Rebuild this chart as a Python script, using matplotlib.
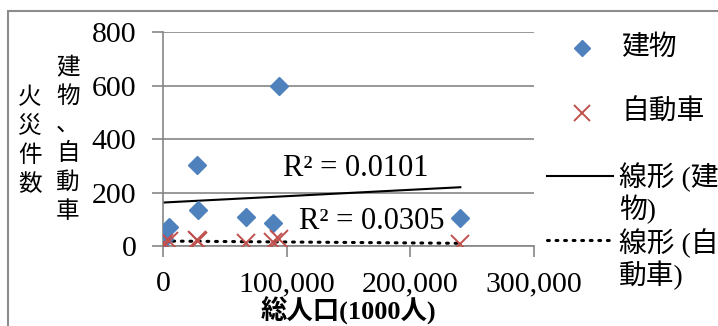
import numpy as np
import matplotlib.pyplot as plt
from matplotlib.lines import Line2D
from matplotlib.patches import Rectangle

plt.rcParams['font.family'] = ['Liberation Serif', 'Noto Sans CJK JP', 'DejaVu Sans']

# population (1000 people) and fire counts
population = [1000, 5000, 27200, 28500, 67000, 89000, 93500, 240300]
fires_building = [25, 70, 303, 135, 107, 87, 598, 106]
fires_car = [10, 18, 22, 18, 12, 15, 28, 6]

x_ticks = [0, 100000, 200000, 300000]
y_ticks = [0, 200, 400, 600, 800]
r2_labels = ['R² = 0.0101', 'R² = 0.0305']

BLUE = '#4F81BD'
RED = '#C0504D'
GRID = '#868686'

fig = plt.figure(figsize=(7.18, 3.26), dpi=100)
ax = fig.add_axes([0.227, 0.2454, 0.517, 0.6564])

x = np.array(population)
yb = np.array(fires_building)
yc = np.array(fires_car)

# linear trend lines
xs = np.array([x.min(), x.max()])
pb = np.polyfit(x, yb, 1)
pc = np.polyfit(x, yc, 1)
ax.plot(xs, np.polyval(pb, xs), color='black', lw=1.5, zorder=2)
ax.plot(xs, np.polyval(pc, xs), color='black', lw=2.2, ls=(0, (0.6, 2.2)),
        dash_capstyle='round', zorder=2)

ax.plot(x, yb, ls='none', marker='D', ms=9.5, color=BLUE, zorder=3)
ax.plot(x, yc, ls='none', marker='x', ms=13, mew=1.4, color=RED, zorder=4)

ax.text(155600, 291, r2_labels[0], ha='center', va='center', fontsize=22)
ax.text(168500, 90, r2_labels[1], ha='center', va='center', fontsize=22)

ax.set_xlim(0, 300000)
ax.set_ylim(0, 800)
ax.set_xticks(x_ticks)
ax.set_yticks(y_ticks)
ax.set_xticklabels([f'{v:,}' for v in x_ticks])
ax.tick_params(axis='both', length=8, width=1.2, color=GRID, labelsize=21.5)
ax.tick_params(axis='y', pad=11)
ax.tick_params(axis='x', pad=10)
ax.grid(axis='y', color=GRID, lw=1.2)
ax.set_axisbelow(True)
for side in ['top', 'right']:
    ax.spines[side].set_visible(False)
for side in ['left', 'bottom']:
    ax.spines[side].set_color(GRID)
    ax.spines[side].set_linewidth(1.2)

ax.set_xlabel('総人口(1000人)', fontsize=19, fontweight='bold', labelpad=0)

# vertical y-axis title in two columns
fig.text(30 / 718, 1 - 142 / 326, '火\n災\n件\n数', ha='center', va='center',
         fontsize=17, linespacing=1.42)
fig.text(68 / 718, 1 - 140 / 326, '建\n物\n、\n自\n動\n車', ha='center', va='center',
         fontsize=17, linespacing=1.42)

# legend
def px(xp, yp):
    return xp / 718, 1 - yp / 326

lx0, ly0 = px(582, 48)
fig.add_artist(Line2D([lx0], [ly0], marker='D', ms=8, color=BLUE, ls='none'))
fig.text(*px(621, 48), '建物', va='center', fontsize=20)
lx1, ly1 = px(582, 113)
fig.add_artist(Line2D([lx1], [ly1], marker='x', ms=12, mew=1.4, color=RED, ls='none'))
fig.text(*px(621, 113), '自動車', va='center', fontsize=20)
a, b = px(547, 176)
c, _ = px(613, 176)
fig.add_artist(Line2D([a, c], [b, b], color='black', lw=1.5))
fig.text(*px(619, 193), '線形 (建\n物)', va='center', fontsize=20, linespacing=1.1)
a, b = px(547, 240)
fig.add_artist(Line2D([a, c], [b, b], color='black', lw=2.2, ls=(0, (0.6, 2.2)),
                      dash_capstyle='round'))
fig.text(*px(619, 259), '線形 (自\n動車)', va='center', fontsize=20, linespacing=1.1)

# chart area border
fig.add_artist(Rectangle((8 / 718, -0.1), 1.0, 1 - 11 / 326 + 0.1,
                         transform=fig.transFigure, fill=False,
                         edgecolor='#8C8C8C', lw=1.5))

fig.savefig('out.png', dpi=100)
